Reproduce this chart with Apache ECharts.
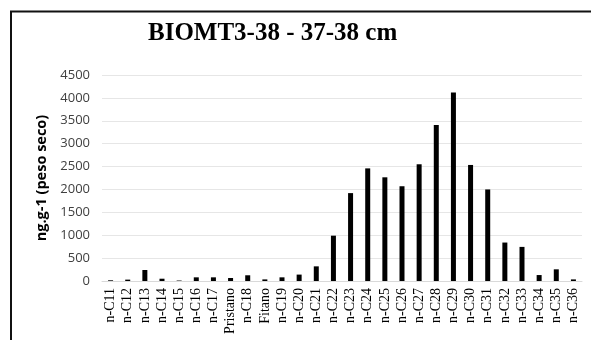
<!DOCTYPE html>
<html>
<head>
<meta charset="utf-8">
<script src="https://cdn.jsdelivr.net/npm/echarts@6/dist/echarts.min.js"></script>
<style>
  html, body { margin: 0; padding: 0; background: #fff; }
  #main { width: 591px; height: 340px; }
</style>
</head>
<body>
<div id="main"></div>
<script>
var categories = ['n-C11', 'n-C12', 'n-C13', 'n-C14', 'n-C15', 'n-C16', 'n-C17', 'Pristano', 'n-C18', 'Fitano',
  'n-C19', 'n-C20', 'n-C21', 'n-C22', 'n-C23', 'n-C24', 'n-C25', 'n-C26', 'n-C27', 'n-C28', 'n-C29',
  'n-C30', 'n-C31', 'n-C32', 'n-C33', 'n-C34', 'n-C35', 'n-C36'];
var values = [15, 30, 240, 50, 10, 80, 80, 65, 125, 35,
  80, 140, 320, 990, 1920, 2460, 2265, 2070, 2550, 3410, 4120,
  2535, 2000, 840, 745, 130, 255, 35];
var yTicks = [0, 4500, 500];

var chart = echarts.init(document.getElementById('main'), null, { renderer: 'canvas' });

chart.setOption({
  backgroundColor: '#fff',
  animation: false,
  title: {
    text: 'BIOMT3-38 - 37-38 cm',
    left: 143,
    top: 16,
    textStyle: {
      fontFamily: 'Liberation Serif',
      fontWeight: 'bold',
      fontSize: 25,
      color: '#000'
    }
  },
  graphic: [{
    type: 'rect',
    shape: { x: 11, y: 11.5, width: 600, height: 400 },
    style: { fill: 'none', stroke: '#111', lineWidth: 2 }
  }],
  grid: {
    left: 102,
    right: 9,
    top: 75,
    bottom: 59
  },
  xAxis: {
    type: 'category',
    data: categories,
    axisLine: { lineStyle: { color: '#d9d9d9' } },
    axisTick: { show: false },
    axisLabel: {
      rotate: 90,
      interval: 0,
      margin: 7,
      fontFamily: 'Liberation Serif',
      fontSize: 14,
      color: '#000'
    }
  },
  yAxis: {
    type: 'value',
    min: yTicks[0],
    max: yTicks[1],
    interval: yTicks[2],
    name: 'ng.g-1 (peso seco)',
    nameLocation: 'middle',
    nameGap: 39,
    nameTextStyle: {
      fontFamily: 'Open Sans',
      fontWeight: 'bold',
      fontSize: 14.5,
      color: '#000'
    },
    axisLine: { show: false },
    axisTick: { show: false },
    axisLabel: {
      margin: 12,
      fontFamily: 'Open Sans',
      fontSize: 13,
      color: '#404040',
      formatter: function (v) { return String(v); }
    },
    splitLine: { lineStyle: { color: '#e6e6e6' } }
  },
  series: [{
    type: 'bar',
    data: values,
    barWidth: 5,
    itemStyle: { color: '#000' }
  }]
});
</script>
</body>
</html>
